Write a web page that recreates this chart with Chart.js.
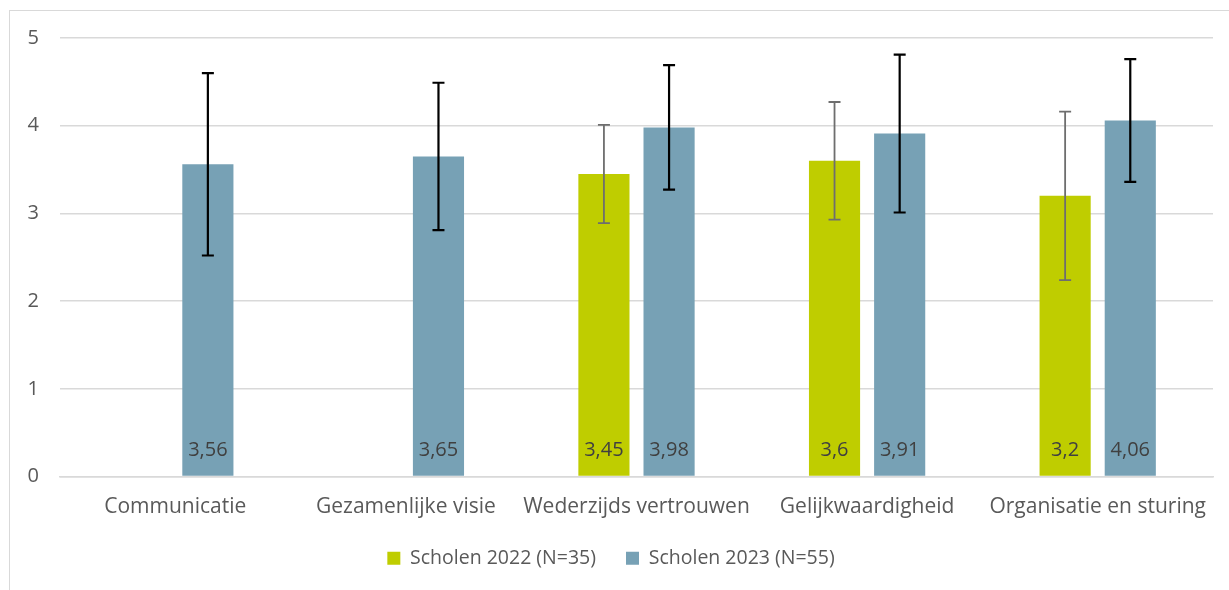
<!DOCTYPE html>
<html>
<head>
<meta charset="utf-8">
<script src="https://cdn.jsdelivr.net/npm/chart.js@4.4.1/dist/chart.umd.min.js"></script>
<style>
  body { margin: 0; background: #fff; }
  #wrap { position: relative; width: 1229px; height: 590px; overflow: hidden; }
  #frame { position: absolute; left: 9px; top: 10px; width: 1240px; height: 600px; border: 1.5px solid #d9d9d9; }
  #graf { position: absolute; left: 0; top: 0; }
</style>
</head>
<body>
<div id="wrap">
  <div id="frame"></div>
  <canvas id="graf" width="1229" height="590"></canvas>
</div>
<script>
// categorieen op de x-as
const categorieen = ["Communicatie", "Gezamenlijke visie", "Wederzijds vertrouwen", "Gelijkwaardigheid", "Organisatie en sturing"];

// gemiddelden per jaar (null = geen meting)
const scholen2022 = [null, null, 3.45, 3.6, 3.2];
const scholen2023 = [3.56, 3.65, 3.98, 3.91, 4.06];

// foutmarges (standaarddeviatie) per jaar
const fout2022 = [null, null, 0.56, 0.67, 0.96];
const fout2023 = [1.04, 0.84, 0.71, 0.90, 0.70];

const legendaTeksten = ["Scholen 2022 (N=35)", "Scholen 2023 (N=55)"];
const yTicks = [0, 1, 2, 3, 4, 5];

const groen = "#bfcd00";
const blauw = "#77a1b5";
const tekstKleur = "#595959";
const font = "'Open Sans', sans-serif";

Chart.defaults.color = tekstKleur;
Chart.defaults.font.family = font;

// foutbalken tekenen
const foutBalken = {
  id: "foutBalken",
  afterDatasetsDraw(chart) {
    const ctx = chart.ctx;
    const y = chart.scales.y;
    chart.data.datasets.forEach((ds, i) => {
      const meta = chart.getDatasetMeta(i);
      meta.data.forEach((bar, j) => {
        const v = ds.data[j];
        const e = ds.fout[j];
        if (v == null || e == null) return;
        const top = y.getPixelForValue(v + e);
        const bot = y.getPixelForValue(v - e);
        ctx.save();
        ctx.strokeStyle = ds.foutKleur;
        ctx.lineWidth = ds.foutDikte;
        ctx.beginPath();
        ctx.moveTo(bar.x, top);
        ctx.lineTo(bar.x, bot);
        ctx.moveTo(bar.x - 6, top);
        ctx.lineTo(bar.x + 6, top);
        ctx.moveTo(bar.x - 6, bot);
        ctx.lineTo(bar.x + 6, bot);
        ctx.stroke();
        ctx.restore();
      });
    });
  }
};

// waarden onderin de balken
const waardeLabels = {
  id: "waardeLabels",
  afterDatasetsDraw(chart) {
    const ctx = chart.ctx;
    const basis = chart.scales.y.getPixelForValue(0);
    ctx.save();
    ctx.font = "20px " + font;
    ctx.fillStyle = "#404040";
    ctx.textAlign = "center";
    ctx.textBaseline = "middle";
    chart.data.datasets.forEach((ds, i) => {
      const meta = chart.getDatasetMeta(i);
      meta.data.forEach((bar, j) => {
        const v = ds.data[j];
        if (v == null) return;
        ctx.fillText(String(v).replace(".", ","), bar.x, basis - 26);
      });
    });
    ctx.restore();
  }
};

const ctx = document.getElementById("graf").getContext("2d");

new Chart(ctx, {
  type: "bar",
  data: {
    labels: categorieen,
    datasets: [
      {
        label: legendaTeksten[0],
        data: scholen2022,
        fout: fout2022,
        foutKleur: "#6e6e6e",
        foutDikte: 1.8,
        backgroundColor: groen,
        borderWidth: 0,
        categoryPercentage: 0.565,
        barPercentage: 0.785
      },
      {
        label: legendaTeksten[1],
        data: scholen2023,
        fout: fout2023,
        foutKleur: "#000000",
        foutDikte: 2.2,
        backgroundColor: blauw,
        borderWidth: 0,
        categoryPercentage: 0.565,
        barPercentage: 0.785
      }
    ]
  },
  options: {
    responsive: false,
    animation: false,
    devicePixelRatio: 1,
    layout: { padding: { left: 9, right: 16, top: 38, bottom: 12 } },
    plugins: {
      tooltip: { enabled: false },
      legend: {
        position: "bottom",
        labels: {
          boxWidth: 13,
          boxHeight: 13,
          padding: 30,
          color: tekstKleur,
          font: { size: 19.5, family: font }
        }
      }
    },
    scales: {
      x: {
        afterFit: s => { s.height = 42; },
        grid: { display: false, drawTicks: false },
        border: { color: "#d9d9d9", width: 1.5 },
        ticks: {
          padding: 18,
          maxRotation: 0,
          minRotation: 0,
          autoSkip: false,
          color: tekstKleur,
          font: { size: 21, family: font }
        }
      },
      y: {
        min: 0,
        max: 5,
        afterBuildTicks: s => { s.ticks = yTicks.map(v => ({ value: v })); },
        afterFit: s => { s.width = 51; },
        grid: { color: "#d9d9d9", lineWidth: 1.5, drawTicks: false },
        border: { display: false },
        ticks: { padding: 21, color: tekstKleur, font: { size: 20, family: font } }
      }
    }
  },
  plugins: [foutBalken, waardeLabels]
});
</script>
</body>
</html>
